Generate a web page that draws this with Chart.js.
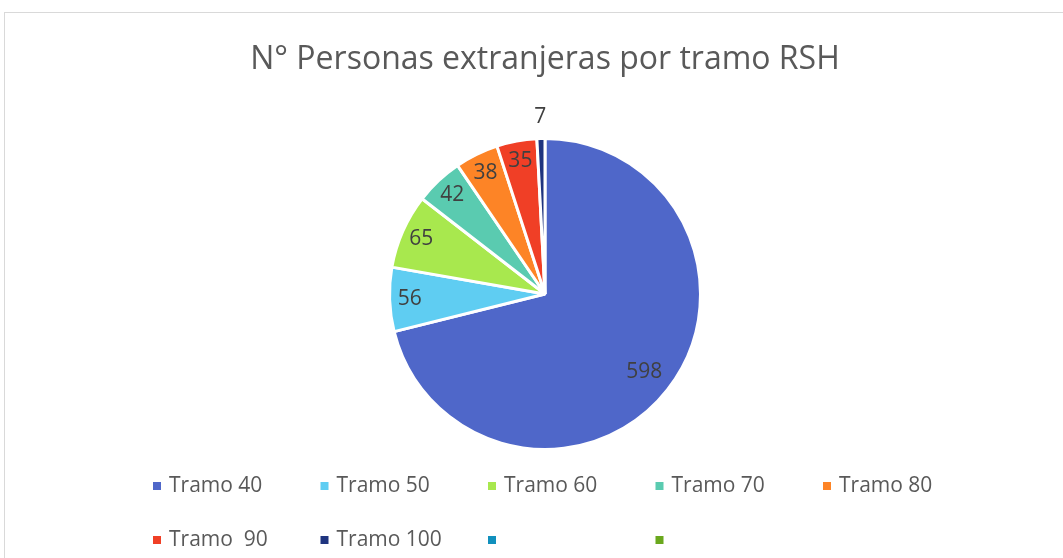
<!DOCTYPE html>
<html>
<head>
<meta charset="utf-8">
<script src="https://cdn.jsdelivr.net/npm/chart.js@4"></script>
<style>
  html, body { margin: 0; padding: 0; background: #fff; overflow: hidden; }
  #frame { position: absolute; left: 4px; top: 12px; width: 1080px; height: 600px; border: 1px solid #d9d9d9; }
  #wrap { position: absolute; left: 0; top: 0; width: 1063px; height: 558px; }
</style>
</head>
<body>
<div id="frame"></div>
<div id="wrap"><canvas id="chart"></canvas></div>
<script>
const labels = ["Tramo 40", "Tramo 50", "Tramo 60", "Tramo 70", "Tramo 80", "Tramo  90", "Tramo 100", "", ""];
const values = [598, 56, 65, 42, 38, 35, 7, 0, 0];
const colors = ["#4f67c9", "#5fcdf2", "#a8e84e", "#5acbb0", "#fd8426", "#f03f26", "#1f347f", "#1190bd", "#6aa81d"];

const FONT = "'Open Sans', sans-serif";

// data labels drawn at each arc's mid angle
const sliceLabels = {
  id: "sliceLabels",
  afterDatasetsDraw(chart) {
    const ctx = chart.ctx;
    const meta = chart.getDatasetMeta(0);
    ctx.save();
    ctx.font = "21px " + FONT;
    ctx.fillStyle = "#404040";
    ctx.textAlign = "center";
    ctx.textBaseline = "middle";
    meta.data.forEach((arc, i) => {
      if (!values[i]) return;
      const mid = (arc.startAngle + arc.endAngle) / 2;
      let r = arc.outerRadius * (i === 0 ? 0.81 : 0.87);
      if (values[i] < 20) r = arc.outerRadius + 22;
      ctx.fillText(String(values[i]), arc.x + Math.cos(mid) * r, arc.y + Math.sin(mid) * r);
    });
    ctx.restore();
  }
};

// grid legend like the spreadsheet one
const gridLegend = {
  id: "gridLegend",
  afterDraw(chart) {
    const ctx = chart.ctx;
    const x0 = 153, colW = 167.5, rows = [486, 540];
    ctx.save();
    ctx.font = "21px " + FONT;
    ctx.textBaseline = "middle";
    labels.forEach((lab, i) => {
      const x = x0 + (i % 5) * colW;
      const y = rows[Math.floor(i / 5)];
      ctx.fillStyle = colors[i];
      ctx.fillRect(x, y - 4, 8, 8);
      ctx.fillStyle = "#595959";
      ctx.fillText(lab, x + 16, y);
    });
    ctx.restore();
  }
};

new Chart(document.getElementById("chart"), {
  type: "pie",
  data: {
    labels: labels,
    datasets: [{
      data: values,
      backgroundColor: colors,
      borderColor: "#ffffff",
      borderWidth: 3
    }]
  },
  options: {
    responsive: true,
    maintainAspectRatio: false,
    animation: false,
    rotation: 0,
    layout: { padding: { top: 0, bottom: 107, left: 27, right: 0 } },
    plugins: {
      legend: { display: false },
      tooltip: { enabled: false },
      title: {
        display: true,
        text: "N° Personas extranjeras por tramo RSH",
        color: "#595959",
        font: { family: FONT, size: 32, weight: "normal", lineHeight: 1.2 },
        padding: { top: 41, bottom: 57.6 }
      }
    }
  },
  plugins: [sliceLabels, gridLegend]
});
</script>
</body>
</html>
